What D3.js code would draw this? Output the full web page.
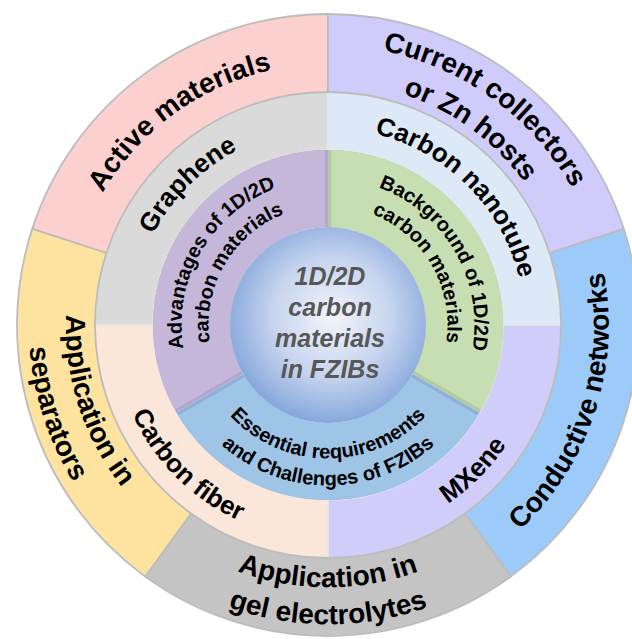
<!DOCTYPE html>
<html>
<head>
<meta charset="utf-8">
<script src="https://cdn.jsdelivr.net/npm/d3@7"></script>
<style>
  body { margin: 0; background: #fff; }
  svg { display: block; }
</style>
</head>
<body>
<svg id="chart"></svg>
<script>
// outer ring : where the carbon materials are used
var outerLabels = [["Active materials"], ["Current collectors", "or Zn hosts"], ["Conductive networks"],
                   ["Application in", "gel electrolytes"], ["Application in", "separators"]];
var outerShare = [1, 1, 1, 1, 1];
var outerColors = ["#fdd0d0", "#cfccfb", "#9ccbf9", "#c4c4c4", "#fde39f"];

// middle ring : the materials
var middleLabels = [["Graphene"], ["Carbon nanotube"], ["MXene"], ["Carbon fiber"]];
var middleShare = [1, 1, 1, 1];
var middleColors = ["#dadada", "#dde9f6", "#d1cdfb", "#fbe6da"];

// inner ring : the review topics
var innerLabels = [["Advantages of 1D/2D", "carbon materials"], ["Background of 1D/2D", "carbon materials"],
                   ["Essential requirements", "and Challenges of FZIBs"]];
var innerShare = [1, 1, 1];
var innerColors = ["#c4b7da", "#c7deb3", "#9ec4e6"];
var innerEdgeColors = ["#b5a7cb", "#b3cc9f", "#8cb2d8"];

// centre ball
var centerLines = ["1D/2D", "carbon", "materials", "in FZIBs"];

var width = 632, height = 639;
var cx = 328, cy = 325;
var font = "'Liberation Sans', Arial, sans-serif";

var svg = d3.select("#chart")
    .attr("width", width)
    .attr("height", height);

var defs = svg.append("defs");

var grad = defs.append("radialGradient")
    .attr("id", "ball")
    .attr("cx", "52%").attr("cy", "46%").attr("r", "55%");
grad.append("stop").attr("offset", "0%").attr("stop-color", "#f3f5fb");
grad.append("stop").attr("offset", "55%").attr("stop-color", "#c6d4ee");
grad.append("stop").attr("offset", "100%").attr("stop-color", "#84a6db");

var g = svg.append("g")
    .attr("transform", "translate(" + cx + "," + cy + ")");

// rings, from inside out (radii, label sizes)
var rings = [
  {name: "inner",  labels: innerLabels,  share: innerShare,  colors: innerColors,  r0: 98,  r1: 175, rc: 140, ls: 27, fs: 20},
  {name: "middle", labels: middleLabels, share: middleShare, colors: middleColors, r0: 175, r1: 233, rc: 206, ls: 0,  fs: 26},
  {name: "outer",  labels: outerLabels,  share: outerShare,  colors: outerColors,  r0: 233, r1: 311, rc: 271, ls: 37, fs: 28}
];

// each ring starts so that its first slice ends at 12 o'clock
rings.forEach(function(ring) {
  var n = ring.share.length;
  var pie = d3.pie().sort(null).value(function(d) { return d; })
      .startAngle(-2 * Math.PI / n)
      .endAngle(2 * Math.PI - 2 * Math.PI / n);
  ring.slices = pie(ring.share);
});

function drawRing(ring, stroke, strokeW) {
  var arc = d3.arc().innerRadius(ring.r0).outerRadius(ring.r1);
  g.append("g").attr("class", ring.name)
    .selectAll("path")
    .data(ring.slices)
    .enter()
    .append("path")
    .attr("d", arc)
    .attr("fill", function(d, i) { return ring.colors[i]; })
    .style("stroke", stroke)
    .style("stroke-width", strokeW);
}

// middle first so the grey outline of the outer ring sits on top
drawRing(rings[1], "#e6e6e6", 1.5);
drawRing(rings[2], "#bcbcbc", 1.8);

// inner ring : darker band at every cut, then the lighter face
var inner = rings[0];
g.append("g").selectAll("path")
    .data(inner.slices)
    .enter()
    .append("path")
    .attr("d", d3.arc().innerRadius(inner.r0).outerRadius(inner.r1))
    .attr("fill", function(d, i) { return innerEdgeColors[i]; });
g.append("g").selectAll("path")
    .data(inner.slices)
    .enter()
    .append("path")
    .attr("d", d3.arc().innerRadius(inner.r0).outerRadius(inner.r1).padAngle(0.07).padRadius(100))
    .attr("fill", function(d, i) { return inner.colors[i]; });

// centre ball
g.append("circle")
    .attr("r", 98)
    .attr("fill", "url(#ball)");

g.append("g").selectAll("text")
    .data(centerLines)
    .enter()
    .append("text")
    .attr("x", 2)
    .attr("y", function(d, i) { return (i - (centerLines.length - 1) / 2) * 31 + 6; })
    .attr("text-anchor", "middle")
    .style("font", "italic bold 25px " + font)
    .style("fill", "#575757")
    .text(function(d) { return d; });

// curved labels : slices on the lower half read anticlockwise so they stay upright
var pid = 0;
function labelPath(r, a0, a1, flip) {
  var p = d3.path();
  if (flip) p.arc(0, 0, r, a1 - Math.PI / 2, a0 - Math.PI / 2, true);
  else p.arc(0, 0, r, a0 - Math.PI / 2, a1 - Math.PI / 2, false);
  return p.toString();
}

rings.forEach(function(ring) {
  ring.slices.forEach(function(s, i) {
    var lines = ring.labels[i];
    var mid = (s.startAngle + s.endAngle) / 2;
    if (mid < 0) mid += 2 * Math.PI;
    var flip = mid > Math.PI / 2 && mid < 3 * Math.PI / 2;
    var n = lines.length;
    lines.forEach(function(line, j) {
      var off = ((n - 1) / 2 - j) * ring.ls;
      var r = flip ? ring.rc - off + 0.35 * ring.fs : ring.rc + off - 0.35 * ring.fs;
      var id = "lp" + (pid++);
      defs.append("path")
          .attr("id", id)
          .attr("d", labelPath(r, s.startAngle, s.endAngle, flip));
      g.append("text")
          .style("font", "bold " + ring.fs + "px " + font)
          .style("fill", "#000")
          .append("textPath")
          .attr("href", "#" + id)
          .attr("startOffset", "50%")
          .attr("text-anchor", "middle")
          .text(line);
    });
  });
});
</script>
</body>
</html>
